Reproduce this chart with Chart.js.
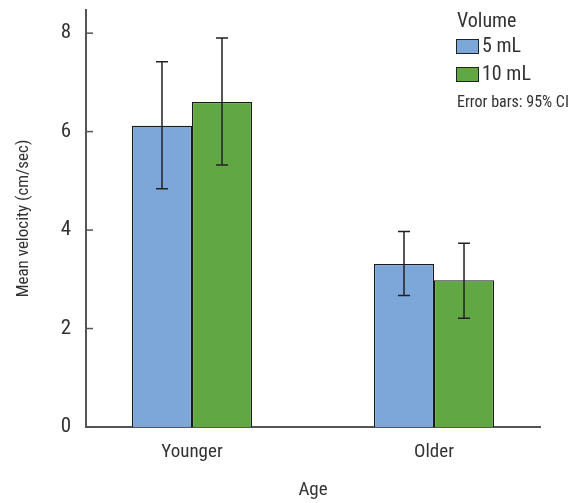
<!DOCTYPE html>
<html>
<head>
<meta charset="utf-8">
<script src="https://cdn.jsdelivr.net/npm/chart.js@4"></script>
<style>
  html, body { margin: 0; padding: 0; background: #fff; }
  #wrap { width: 577px; height: 503px; }
</style>
</head>
<body>
<div id="wrap"><canvas id="chart" width="577" height="503"></canvas></div>
<script>
const categories = ["Younger", "Older"];
const seriesNames = ["5 mL", "10 mL"];
const means5 = [6.12, 3.31];
const means10 = [6.6, 2.98];
const low5 = [4.84, 2.67];
const high5 = [7.42, 3.97];
const low10 = [5.32, 2.21];
const high10 = [7.9, 3.73];
const yTicks = [0, 2, 4, 6, 8];

const FONT = "Roboto, sans-serif";
const NARROW = "condensed";   // goes into the font shorthand
const TEXT = "#333";

// error bars drawn on top of the bars, using the chart's own scales
const errorBars = {
    id: "errorBars",
    afterDatasetsDraw(chart) {
        const ctx = chart.ctx;
        const y = chart.scales.y;
        const ranges = [[low5, high5], [low10, high10]];
        ctx.save();
        ctx.strokeStyle = "#222";
        ctx.lineWidth = 1.5;
        chart.data.datasets.forEach((ds, i) => {
            chart.getDatasetMeta(i).data.forEach((bar, j) => {
                const x = bar.x;
                const yLo = y.getPixelForValue(ranges[i][0][j]);
                const yHi = y.getPixelForValue(ranges[i][1][j]);
                ctx.beginPath();
                ctx.moveTo(x, yLo); ctx.lineTo(x, yHi);
                ctx.moveTo(x - 6, yLo); ctx.lineTo(x + 6, yLo);
                ctx.moveTo(x - 6, yHi); ctx.lineTo(x + 6, yHi);
                ctx.stroke();
            });
        });
        // inward tick marks on the y axis
        ctx.strokeStyle = "#555";
        ctx.lineWidth = 1.5;
        const left = chart.chartArea.left;
        yTicks.forEach(v => {
            const py = y.getPixelForValue(v);
            ctx.beginPath();
            ctx.moveTo(left, py); ctx.lineTo(left + 7, py);
            ctx.stroke();
        });
        ctx.restore();
    }
};

// legend in the top right corner
const legendBox = {
    id: "legendBox",
    afterDraw(chart) {
        const ctx = chart.ctx;
        ctx.save();
        ctx.fillStyle = TEXT;
        ctx.textBaseline = "middle";
        ctx.textAlign = "left";
        ctx.font = NARROW + " 20px " + FONT;
        ctx.fillText("Volume", 457, 22);
        chart.data.datasets.forEach((ds, i) => {
            const top = 39 + i * 28;
            ctx.fillStyle = ds.backgroundColor;
            ctx.fillRect(456, top, 23, 15);
            ctx.strokeStyle = "#222";
            ctx.lineWidth = 1;
            ctx.strokeRect(456.5, top + 0.5, 22, 14);
            ctx.fillStyle = TEXT;
            ctx.font = NARROW + " 20px " + FONT;
            ctx.fillText(seriesNames[i], 482, top + 8);
        });
        ctx.font = NARROW + " 16px " + FONT;
        ctx.fillText("Error bars: 95% CI", 457, 103);
        ctx.restore();
    }
};

new Chart(document.getElementById("chart"), {
    type: "bar",
    data: {
        labels: categories,
        datasets: [
            { label: seriesNames[0], data: means5, backgroundColor: "#7ca7d8", borderColor: "#1a1a1a", borderWidth: 1.2 },
            { label: seriesNames[1], data: means10, backgroundColor: "#61a845", borderColor: "#1a1a1a", borderWidth: 1.2 }
        ]
    },
    options: {
        responsive: false,
        animation: false,
        layout: { padding: { top: 10, right: 37, left: 0, bottom: 0 } },
        categoryPercentage: 0.496,
        barPercentage: 1.0,
        plugins: {
            legend: { display: false },
            tooltip: { enabled: false }
        },
        scales: {
            x: {
                grid: { display: false, drawTicks: false },
                border: { color: "#555", width: 2 },
                ticks: { color: TEXT, font: { family: FONT, weight: NARROW, size: 19 }, padding: 14 },
                title: { display: true, text: "Age", color: TEXT, font: { family: FONT, weight: NARROW, size: 19 }, padding: { top: 0, bottom: 1 } },
                // place the two groups where the reference puts them
                afterBuildTicks(scale) { scale._startValue = -0.438; scale._valueRange = 1.876; },
                afterFit(scale) { scale.height = 76; scale.paddingLeft = 0; scale.paddingRight = 0; }
            },
            y: {
                min: 0,
                max: 8.47,
                grid: { display: false, drawTicks: false },
                border: { color: "#555", width: 2 },
                ticks: { color: TEXT, font: { family: FONT, weight: NARROW, size: 21 }, padding: 15 },
                afterBuildTicks(scale) { scale.ticks = yTicks.map(v => ({ value: v })); },
                title: { display: true, text: "Mean velocity (cm/sec)", color: TEXT, font: { family: FONT, weight: NARROW, size: 17 }, padding: { top: 14, bottom: 0 } },
                afterFit(scale) { scale.width = 86; scale.paddingTop = 0; scale.paddingBottom = 0; }
            }
        }
    },
    plugins: [errorBars, legendBox]
});
</script>
</body>
</html>
